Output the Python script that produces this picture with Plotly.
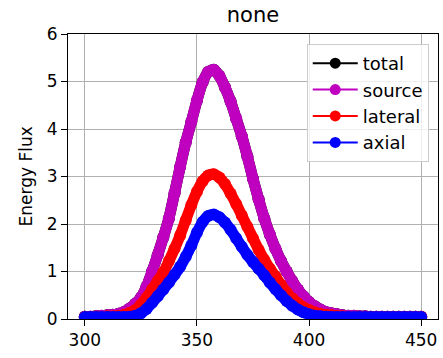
import plotly.graph_objects as go

x_vals = [300, 302.5, 305, 307.5, 310, 312.5, 315, 317.5, 320, 322.5,
          325, 327.5, 330, 332.5, 335, 337.5, 340, 342.5, 345, 347.5,
          350, 352.5, 355, 357.5, 360, 362.5, 365, 367.5, 370, 372.5,
          375, 377.5, 380, 382.5, 385, 387.5, 390, 392.5, 395, 397.5,
          400, 402.5, 405, 407.5, 410, 412.5, 415, 417.5, 420, 422.5,
          425, 427.5, 430, 432.5, 435, 437.5, 440, 442.5, 445, 447.5, 450]

source = [0.05, 0.05, 0.06, 0.07, 0.08, 0.09, 0.11, 0.15, 0.22, 0.32,
          0.45, 0.68, 1.00, 1.35, 1.72, 2.12, 2.65, 3.20, 3.72, 4.15,
          4.60, 4.98, 5.20, 5.25, 5.12, 4.88, 4.58, 4.22, 3.85, 3.42,
          2.95, 2.52, 2.12, 1.78, 1.48, 1.22, 1.00, 0.80, 0.62, 0.48,
          0.36, 0.27, 0.20, 0.15, 0.12, 0.10, 0.08, 0.07, 0.07, 0.06,
          0.06, 0.05, 0.05, 0.05, 0.05, 0.05, 0.05, 0.05, 0.05, 0.05, 0.05]

total = [0.05, 0.05, 0.06, 0.07, 0.08, 0.09, 0.11, 0.15, 0.22, 0.32,
         0.45, 0.68, 1.00, 1.35, 1.72, 2.12, 2.65, 3.20, 3.72, 4.15,
         4.60, 4.98, 5.20, 5.25, 5.12, 4.88, 4.58, 4.22, 3.85, 3.42,
         2.95, 2.52, 2.12, 1.78, 1.48, 1.22, 1.00, 0.80, 0.62, 0.48,
         0.36, 0.27, 0.20, 0.15, 0.12, 0.10, 0.08, 0.07, 0.07, 0.06,
         0.06, 0.05, 0.05, 0.05, 0.05, 0.05, 0.05, 0.05, 0.05, 0.05, 0.05]

lateral = [0.05, 0.05, 0.05, 0.05, 0.06, 0.06, 0.07, 0.09, 0.13, 0.19,
           0.30, 0.45, 0.62, 0.80, 0.98, 1.22, 1.48, 1.76, 2.08, 2.40,
           2.68, 2.90, 3.02, 3.05, 2.98, 2.84, 2.64, 2.42, 2.18, 1.94,
           1.70, 1.46, 1.25, 1.06, 0.90, 0.72, 0.56, 0.43, 0.33, 0.25,
           0.19, 0.14, 0.11, 0.09, 0.08, 0.07, 0.06, 0.05, 0.05, 0.05,
           0.05, 0.05, 0.05, 0.05, 0.05, 0.05, 0.05, 0.05, 0.05, 0.05, 0.05]

axial = [0.04, 0.04, 0.04, 0.04, 0.04, 0.04, 0.04, 0.04, 0.05, 0.07,
         0.12, 0.21, 0.34, 0.48, 0.62, 0.77, 0.93, 1.10, 1.31, 1.55,
         1.82, 2.04, 2.17, 2.20, 2.14, 2.03, 1.88, 1.70, 1.52, 1.35,
         1.20, 1.06, 0.92, 0.77, 0.63, 0.50, 0.38, 0.28, 0.20, 0.14,
         0.10, 0.07, 0.06, 0.05, 0.04, 0.04, 0.04, 0.04, 0.04, 0.04,
         0.04, 0.04, 0.04, 0.04, 0.04, 0.04, 0.04, 0.04, 0.04, 0.04, 0.04]

x_ticks = [300, 350, 400, 450]
y_ticks = [0, 1, 2, 3, 4, 5, 6]

series = [("total", total, "#000000"),
          ("source", source, "#bf00bf"),
          ("lateral", lateral, "#ff0000"),
          ("axial", axial, "#0000ff")]

fig = go.Figure()
# data bands: dense markers drawn as a thick marker line
for name, vals, col in series:
    fig.add_trace(go.Scatter(
        x=x_vals, y=vals, name=name, mode="lines+markers", showlegend=False,
        line=dict(color=col, width=11, shape="spline", smoothing=0.6),
        marker=dict(color=col, size=12, symbol="circle"),
    ))
# legend entries with thin line and marker
for name, vals, col in series:
    fig.add_trace(go.Scatter(
        x=[None], y=[None], name=name, mode="lines+markers",
        line=dict(color=col, width=2),
        marker=dict(color=col, size=11, symbol="circle"),
    ))

font = "DejaVu Sans"
fig.update_layout(
    width=443, height=358,
    margin=dict(l=68, r=5, t=34, b=39),
    paper_bgcolor="white", plot_bgcolor="white",
    font=dict(family=font, size=17, color="black"),
    title=dict(text="none", x=(68 + 185) / 443, xanchor="center",
               y=1 - 15 / 358, yanchor="middle", yref="container",
               font=dict(size=21, family=font, color="black")),
    showlegend=True,
    legend=dict(x=0.975, xanchor="right", y=0.965, yanchor="top",
                bgcolor="rgba(255,255,255,0.8)", bordercolor="#cccccc",
                borderwidth=1, itemwidth=45,
                font=dict(size=18, family=font)),
    xaxis=dict(range=[292.5, 457.5], tickvals=x_ticks,
               ticktext=[str(v) for v in x_ticks],
               showgrid=True, gridcolor="#b0b0b0", gridwidth=1,
               zeroline=False, showline=True, linecolor="black", linewidth=1,
               mirror=True, ticks="outside", ticklen=6, tickcolor="black",
               tickfont=dict(size=17)),
    yaxis=dict(range=[0, 6], tickvals=y_ticks,
               ticktext=[str(v) for v in y_ticks],
               showgrid=True, gridcolor="#b0b0b0", gridwidth=1,
               zeroline=False, showline=True, linecolor="black", linewidth=1,
               mirror=True, ticks="outside", ticklen=6, tickcolor="black",
               tickfont=dict(size=17)),
    annotations=[dict(text="Energy Flux", xref="paper", yref="paper",
                      x=(25 - 68) / 370, y=0.5, xanchor="center",
                      yanchor="middle", textangle=-90, showarrow=False,
                      font=dict(size=17, family=font, color="black"))],
)

fig.write_html("out.html", config={"displayModeBar": False, "staticPlot": True})

with open("out.html", "r", encoding="utf-8") as f:
    html = f.read()
html = html.replace("<head>", "<head><style>html,body{margin:0;padding:0;overflow:hidden;}</style>", 1)
with open("out.html", "w", encoding="utf-8") as f:
    f.write(html)
